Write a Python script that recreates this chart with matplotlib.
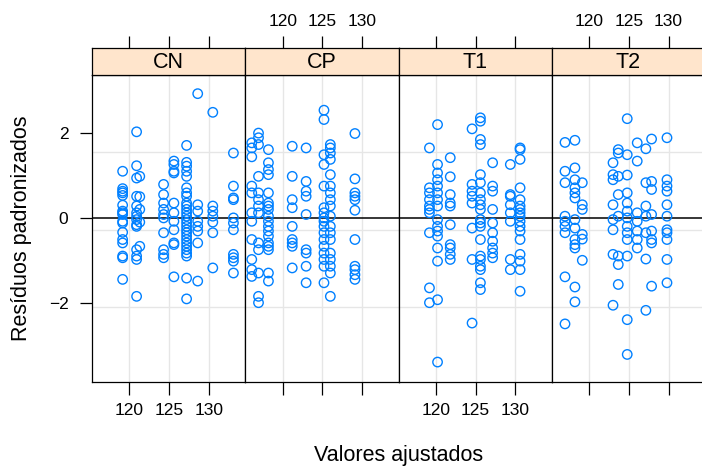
import matplotlib
matplotlib.use("Agg")
import matplotlib.pyplot as plt
import numpy as np

plt.rcParams['font.family'] = ['Liberation Sans', 'DejaVu Sans']

panels = ["CN", "CP", "T1", "T2"]
x_ticks = [120, 125, 130]
y_ticks = [-2, 0, 2]
grid_y = [1.56, -0.28, -2.09]
x_label = "Valores ajustados"
y_label = "Resíduos padronizados"

# fitted values (columns) and standardized residuals per panel
cn_x = [119.14, 120.9, 121.3, 124.3, 125.6, 127.2, 128.6, 130.5, 133.1]
cn_y = [
    [1.10, 0.69, 0.63, 0.59, 0.53, 0.30, 0.16, 0.12, 0.08, -0.08, -0.12, -0.34, -0.51, -0.59, -0.90, -0.94, -1.45],
    [2.03, 1.23, 0.94, 0.51, 0.28, 0.12, 0.04, -0.04, -0.16, -0.20, -0.75, -0.90, -0.98, -1.85],
    [0.98, 0.50, 0.20, -0.10, -0.67],
    [0.79, 0.55, 0.35, 0.20, 0.08, 0.0, -0.35, -0.75, -0.86, -0.94],
    [1.34, 1.26, 1.10, 1.06, 0.35, 0.12, -0.08, -0.28, -0.59, -0.63, -1.39],
    [1.71, 1.31, 1.22, 1.10, 0.98, 0.71, 0.59, 0.51, 0.35, 0.28, 0.20, 0.12, 0.04, -0.04, -0.12, -0.20,
     -0.28, -0.35, -0.43, -0.51, -0.59, -0.67, -0.75, -0.83, -0.90, -1.42, -1.91],
    [2.93, 0.31, 0.16, -0.08, -0.20, -0.31, -0.59, -1.49],
    [2.49, 0.28, 0.16, 0.04, -0.10, -0.35, -1.18],
    [1.53, 0.75, 0.47, 0.43, 0.0, -0.12, -0.28, -0.86, -0.94, -1.02, -1.30],
]

cp_x = [116.1, 116.95, 118.2, 121.2, 122.95, 125.2, 126.0, 129.1]
cp_y = [
    [1.77, 1.65, 1.44, 0.75, 0.59, 0.12, -0.08, -0.51, -0.98, -1.22, -1.38],
    [2.0, 1.89, 1.73, 0.98, 0.59, 0.43, 0.28, 0.12, -0.59, -0.75, -1.30, -1.85, -2.0],
    [1.61, 1.30, 1.14, 1.02, 0.59, 0.35, 0.28, 0.20, 0.04, -0.08, -0.20, -0.31, -0.43, -0.59, -0.67, -0.75, -1.30, -1.49],
    [1.69, 0.98, 0.43, 0.24, -0.20, -0.51, -0.59, -0.67, -1.18],
    [1.65, 0.86, 0.63, 0.51, 0.08, -0.75, -0.83, -1.14, -1.53],
    [2.54, 2.32, 1.49, 1.26, 0.75, 0.24, 0.12, 0.0, -0.08, -0.20, -0.35, -0.51, -0.67, -0.83, -0.98, -1.14, -1.53],
    [1.73, 1.65, 1.53, 1.38, 1.02, 0.75, 0.59, 0.43, 0.28, 0.04, -0.20, -0.35, -0.51, -0.83, -0.98, -1.14, -1.30, -1.85],
    [1.99, 0.92, 0.59, 0.51, 0.43, 0.18, -0.51, -1.14, -1.22, -1.34, -1.45],
]

t1_x = [119.18, 120.2, 121.8, 124.55, 125.6, 127.14, 129.37, 130.6]
t1_y = [
    [1.65, 0.71, 0.59, 0.43, 0.28, 0.20, 0.12, -0.35, -1.65, -2.0],
    [2.2, 1.26, 1.06, 0.90, 0.75, 0.59, 0.43, 0.28, -0.04, -0.20, -0.31, -0.43, -0.71, -1.02, -1.93, -3.40],
    [1.42, 0.97, 0.55, 0.35, 0.28, -0.16, -0.63, -0.71, -0.86, -0.98],
    [2.1, 0.79, 0.63, 0.51, 0.35, -0.24, -0.98, -2.48],
    [2.36, 2.28, 1.85, 1.73, 1.02, 0.83, 0.59, 0.43, 0.31, 0.20, -0.04, -0.12, -0.20, -0.51, -0.90, -0.98,
     -1.14, -1.22, -1.53, -1.69],
    [1.30, 0.75, 0.63, 0.20, -0.12, -0.35, -0.55, -0.71, -0.83, -0.94],
    [1.26, 0.55, 0.51, 0.31, 0.12, -0.08, -0.98, -1.22],
    [1.65, 1.61, 1.38, 0.71, 0.43, 0.28, 0.20, 0.12, 0.04, -0.08, -0.20, -0.31, -0.51, -0.86, -1.02, -1.22, -1.73],
]

t2_x = [116.95, 118.2, 119.13, 123.0, 123.66, 124.79, 126.05, 127.14, 127.86, 129.8]
t2_y = [
    [1.78, 1.10, 0.83, 0.04, -0.08, -0.20, -0.35, -1.39, -2.50],
    [1.83, 1.18, 0.90, 0.71, 0.59, 0.47, -0.04, -0.24, -0.51, -0.63, -0.71, -1.63, -1.98],
    [0.83, 0.31, 0.20, -0.39, -0.50, -1.0],
    [1.30, 1.02, 0.90, 0.31, -0.04, -0.28, -0.86, -2.06],
    [1.61, 1.53, 0.98, 0.55, 0.04, -0.90, -1.10, -1.57],
    [2.34, 1.49, 1.01, 0.59, 0.35, 0.16, 0.0, -0.20, -0.35, -0.51, -0.90, -2.40, -3.22],
    [1.77, 1.34, 0.12, -0.08, -0.31, -0.51, -0.71],
    [1.63, 0.83, 0.28, 0.04, -0.35, -0.97, -2.18],
    [1.86, 0.86, 0.67, 0.08, -0.31, -0.51, -0.59, -1.61],
    [1.89, 0.90, 0.75, 0.63, 0.31, 0.04, -0.28, -0.35, -0.51, -0.98, -1.53],
]

data = {"CN": (cn_x, cn_y), "CP": (cp_x, cp_y), "T1": (t1_x, t1_y), "T2": (t2_x, t2_y)}

W, H = 702, 471
fig = plt.figure(figsize=(W / 100, H / 100), dpi=100)
fig.patch.set_facecolor("white")

left_px = 92.0
pw = 153.25
top_px, bot_px = 75.0, 382.0
strip_top = 48.0
xlim = (115.28, 134.59)
ylim = (-3.87, 3.37)
blue = "#0080ff"
tick_fs = 12.5
lab_fs = 15.5

for i, name in enumerate(panels):
    x0 = (left_px + i * pw) / W
    ax = fig.add_axes([x0, 1 - bot_px / H, pw / W, (bot_px - top_px) / H])
    sx = fig.add_axes([x0, 1 - top_px / H, pw / W, (top_px - strip_top) / H])
    xs, ys = data[name]
    px, py = [], []
    for xv, col in zip(xs, ys):
        px += [xv] * len(col)
        py += col
    for g in x_ticks:
        ax.axvline(g, color="#e6e6e6", lw=1.0, zorder=0)
    for g in grid_y:
        ax.axhline(g, color="#e6e6e6", lw=1.0, zorder=0)
    ax.axhline(0, color="black", lw=1.1, zorder=1)
    ax.scatter(px, py, s=46, facecolors="none", edgecolors=blue, linewidths=1.0, zorder=3)
    ax.set_xlim(*xlim)
    ax.set_ylim(*ylim)
    for sp in ax.spines.values():
        sp.set_color("black")
        sp.set_linewidth(0.9)
    ax.set_xticks(x_ticks)
    ax.tick_params(axis="x", direction="out", length=9, width=0.9, pad=6,
                   labelsize=tick_fs, bottom=True, top=False,
                   labelbottom=(i % 2 == 0))
    if i == 0:
        ax.set_yticks(y_ticks)
        ax.tick_params(axis="y", direction="out", length=9, width=0.9, pad=8, labelsize=tick_fs)
    else:
        ax.set_yticks([])
    # strip
    sx.set_facecolor("#ffe5cc")
    sx.set_xlim(*xlim)
    sx.set_ylim(0, 1)
    sx.set_yticks([])
    sx.set_xticks(x_ticks)
    sx.xaxis.set_ticks_position("top")
    sx.tick_params(axis="x", direction="out", length=9, width=0.9, pad=5,
                   labelsize=tick_fs, top=True, bottom=False,
                   labeltop=(i % 2 == 1), labelbottom=False)
    for sp in sx.spines.values():
        sp.set_color("black")
        sp.set_linewidth(0.9)
    sx.text(0.5, 0.45, name, transform=sx.transAxes, ha="center", va="center",
            fontsize=lab_fs, color="black")

fig.text((left_px + 2 * pw) / W, 1 - 455 / H, x_label, ha="center", va="center",
         fontsize=lab_fs)
fig.text(22 / W, 1 - 228.5 / H, y_label, ha="center", va="center",
         rotation=90, fontsize=lab_fs)

fig.savefig("out.png", dpi=100, facecolor="white")
